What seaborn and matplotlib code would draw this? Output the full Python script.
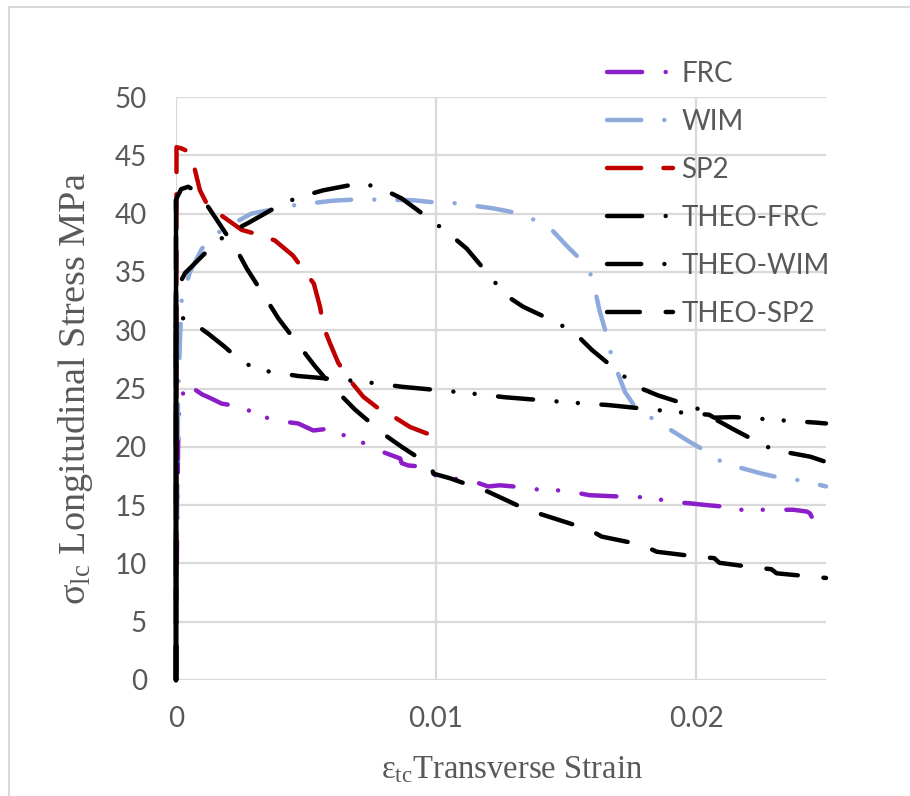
import matplotlib
matplotlib.use("Agg")
import matplotlib.pyplot as plt
import pandas as pd
import seaborn as sns
from matplotlib.patches import Rectangle

# ---- measured curves: transverse strain vs longitudinal stress (MPa) ----
frc_strain = [0, 0.00003, 0.00008, 0.00012, 0.0002, 0.0003, 0.0004, 0.0005, 0.0006, 0.0008,
              0.001, 0.0013, 0.00176, 0.00233, 0.00253, 0.00272, 0.00291, 0.00304, 0.00323, 0.0033,
              0.004, 0.0047, 0.00528, 0.00567, 0.00605, 0.00631, 0.00637, 0.00663, 0.00723, 0.0079,
              0.00862, 0.00868, 0.00893, 0.00945, 0.00958, 0.0097, 0.01047, 0.0113, 0.012, 0.01246,
              0.01297, 0.01349, 0.0143, 0.0152, 0.0159, 0.0166, 0.01746, 0.0182, 0.019, 0.01977,
              0.02041, 0.02092, 0.02105, 0.02118, 0.022, 0.0229, 0.02374, 0.02426, 0.02438, 0.02445]
frc_stress = [0, 10, 20, 23.7, 24.0, 24.8, 25.5, 25.3, 25.1, 24.8,
              24.5, 24.2, 23.7, 23.5, 23.6, 23.2, 23.0, 23.1, 22.9, 22.6,
              22.2, 22.0, 21.4, 21.5, 21.5, 21.4, 21.0, 21.0, 20.3, 19.6,
              19.0, 18.6, 18.4, 18.3, 17.9, 17.7, 17.3, 17.15, 16.6, 16.7,
              16.6, 16.35, 16.35, 16.15, 15.85, 15.78, 15.7, 15.67, 15.3, 15.15,
              15.0, 14.9, 14.6, 14.6, 14.6, 14.6, 14.6, 14.45, 14.3, 14.0]

wim_strain = [0, 0.00003, 0.00008, 0.00015, 0.00022, 0.00054, 0.001, 0.0015, 0.002, 0.0029,
              0.0045, 0.006, 0.0068, 0.0076, 0.0091, 0.0099, 0.0107, 0.0122, 0.013, 0.0138,
              0.0145, 0.015, 0.01554, 0.016, 0.0163, 0.01656, 0.01676, 0.01727, 0.01772, 0.01842,
              0.0197, 0.0204, 0.02105, 0.02253, 0.02332, 0.0241, 0.025]
wim_stress = [0, 10, 24, 29, 32.7, 35.0, 37.0, 38.2, 38.9, 40.0,
              40.7, 41.1, 41.2, 41.2, 41.15, 40.97, 40.9, 40.45, 40.1, 39.45,
              38.5, 37.3, 36.1, 34.6, 31.6, 29.6, 27.7, 24.7, 23.2, 22.3,
              20.5, 19.6, 18.6, 17.7, 17.3, 17.1, 16.6]

sp2_strain = [0, 0.00001, 0.00002, 0.0002, 0.0004, 0.00054, 0.0007, 0.00092, 0.00124, 0.0019,
              0.00253, 0.00317, 0.0038, 0.0045, 0.00496, 0.0053, 0.00554, 0.00567, 0.0059, 0.00624,
              0.00669, 0.0072, 0.00772, 0.00836, 0.009, 0.0097]
sp2_stress = [0, 20, 45.7, 45.6, 45.4, 45.0, 44.0, 42.0, 40.6, 39.6,
              38.6, 38.2, 37.7, 36.4, 35.0, 34.0, 32.0, 30.3, 29.0, 27.2,
              25.7, 24.3, 23.4, 22.6, 21.7, 21.1]

# ---- theoretical curves ----
theo_frc_strain = [0, 0, 0.00015, 0.00035, 0.0009, 0.00124, 0.00186, 0.00249, 0.00317, 0.0047,
                   0.00714, 0.00868, 0.00949, 0.01035, 0.0111, 0.01265, 0.01349, 0.01432, 0.01515, 0.01663,
                   0.01746, 0.0183, 0.01913, 0.0205, 0.0207, 0.02144, 0.02227, 0.0231, 0.02464, 0.025]
theo_frc_stress = [0, 32.2, 31.7, 30.6, 30.25, 29.7, 28.6, 27.36, 26.6, 26.07,
                   25.6, 25.15, 24.98, 24.8, 24.64, 24.25, 24.1, 23.95, 23.8, 23.58,
                   23.39, 23.2, 23.0, 22.75, 22.5, 22.55, 22.44, 22.3, 22.07, 22.0]

theo_wim_strain = [0, 0, 0.00035, 0.0008, 0.00143, 0.002, 0.00278, 0.00413, 0.00487, 0.00567,
                   0.0066, 0.0072, 0.00795, 0.00868, 0.0099, 0.01054, 0.01118, 0.01214, 0.01268, 0.01336,
                   0.0147, 0.01541, 0.016, 0.01714, 0.01782, 0.01855, 0.01996, 0.02067, 0.02144, 0.02272,
                   0.02355, 0.0244, 0.025]
theo_wim_stress = [0, 33.4, 34.9, 35.9, 37.3, 38.3, 39.2, 40.9, 41.5, 42.0,
                   42.4, 42.6, 42.1, 41.3, 39.3, 38.2, 37.0, 34.45, 33.0, 32.0,
                   30.6, 29.6, 28.3, 26.2, 25.07, 24.4, 23.4, 22.45, 21.5, 20.0,
                   19.5, 19.15, 18.7]

theo_sp2_strain = [0, 0, 0.0002, 0.00047, 0.0007, 0.00105, 0.0015, 0.00233, 0.00272, 0.00349,
                   0.00394, 0.00483, 0.00535, 0.006, 0.00688, 0.00804, 0.00868, 0.0095, 0.0098, 0.0099,
                   0.01054, 0.012, 0.0135, 0.01554, 0.0159, 0.01637, 0.0179, 0.01849, 0.01996, 0.0207,
                   0.0209, 0.0221, 0.0229, 0.0231, 0.025]
theo_sp2_stress = [0, 41.2, 42.1, 42.3, 42.0, 41.2, 39.7, 36.9, 35.3, 32.6,
                   31.0, 28.4, 26.9, 25.2, 23.2, 21.0, 20.0, 18.8, 18.4, 17.7,
                   17.3, 16.15, 14.6, 13.15, 12.9, 12.3, 11.6, 11.0, 10.6, 10.45,
                   10.05, 9.7, 9.5, 9.15, 8.75]

series_names = ["FRC", "WIM", "SP2", "THEO-FRC", "THEO-WIM", "THEO-SP2"]
x_ticks = [0, 0.01, 0.02]
x_tick_labels = ["0", "0.01", "0.02"]
y_ticks = [0, 5, 10, 15, 20, 25, 30, 35, 40, 45, 50]

curves = [
    (frc_strain, frc_stress),
    (wim_strain, wim_stress),
    (sp2_strain, sp2_stress),
    (theo_frc_strain, theo_frc_stress),
    (theo_wim_strain, theo_wim_stress),
    (theo_sp2_strain, theo_sp2_stress),
]
df = pd.concat(
    [pd.DataFrame({"strain": xs, "stress": ys, "series": name})
     for name, (xs, ys) in zip(series_names, curves)],
    ignore_index=True,
)
# elastic branch (zero transverse strain) of the theoretical models
theo_names = series_names[3:]
df_rise = pd.concat(
    [pd.DataFrame({"strain": xs[:2], "stress": ys[:2], "series": name})
     for name, (xs, ys) in zip(theo_names, curves[3:])],
    ignore_index=True,
)

palette = {
    "FRC": "#8B1EC8",
    "WIM": "#8EA9DB",
    "SP2": "#C00000",
    "THEO-FRC": "#000000",
    "THEO-WIM": "#000000",
    "THEO-SP2": "#000000",
}
# dash patterns in line-width units (round caps turn the short ones into dots)
dash_long_dot_dot = (7.9, 5.3, 0.01, 4.8, 0.01, 5.3)
dash_long_dot = (7.7, 5.2, 0.01, 5.2)
dash_map = {
    "FRC": dash_long_dot_dot,
    "WIM": dash_long_dot,
    "SP2": (7.7, 5.0),
    "THEO-FRC": dash_long_dot_dot,
    "THEO-WIM": dash_long_dot,
    "THEO-SP2": (7.4, 5.8),
}

sns.set_theme(style="white")
plt.rcParams["font.family"] = ["Lato", "DejaVu Sans"]
plt.rcParams["mathtext.fontset"] = "custom"
plt.rcParams["mathtext.rm"] = "Liberation Serif"
plt.rcParams["mathtext.it"] = "Liberation Serif:italic"

W, H = 910, 796
fig = plt.figure(figsize=(W / 100, H / 100), dpi=100)
fig.patch.set_facecolor("white")
ax = fig.add_axes([176 / W, 1 - 680 / H, 650 / W, 583 / H])

line_kws = dict(linewidth=3.2, dash_capstyle="round", solid_capstyle="round",
                dash_joinstyle="round", solid_joinstyle="round", clip_on=False)

sns.lineplot(
    data=df, x="strain", y="stress",
    hue="series", style="series",
    hue_order=series_names, style_order=series_names,
    palette=palette, dashes=dash_map,
    sort=False, estimator=None, legend=False, ax=ax, **line_kws,
)
sns.lineplot(
    data=df_rise, x="strain", y="stress", hue="series", hue_order=theo_names,
    palette={n: palette[n] for n in theo_names},
    sort=False, estimator=None, legend=False, ax=ax, **line_kws,
)

ax.set_xlim(0, 0.025)
ax.set_ylim(0, 50)
ax.set_xticks(x_ticks)
ax.set_xticklabels(x_tick_labels)
ax.set_yticks(y_ticks)
ax.tick_params(axis="both", length=0, labelsize=20, labelcolor="#595959")
ax.tick_params(axis="y", pad=21)
ax.tick_params(axis="x", pad=19)
ax.grid(True, color="#D9D9D9", linewidth=1.6)
ax.set_axisbelow(True)
for spine in ax.spines.values():
    spine.set_visible(False)

ax.set_ylabel(r"$\mathregular{\sigma_{lc}}$ Longitudinal Stress MPa",
              fontfamily="Liberation Serif", fontsize=27.5, color="#595959")
ax.set_xlabel(r"$\mathregular{\varepsilon_{tc}}$Transverse Strain",
              fontfamily="Liberation Serif", fontsize=23.5, color="#595959")
ax.yaxis.set_label_coords(-0.124, 0.5)
ax.xaxis.set_label_coords(0.517, -0.128)

leg = ax.legend(
    ax.get_lines()[:6], series_names,
    loc="upper left", bbox_to_anchor=(607 / W, 1 - 61 / H), bbox_transform=fig.transFigure,
    frameon=False, fontsize=20, handlelength=2.376, handletextpad=0.3,
    labelspacing=0.79, borderpad=0, borderaxespad=0,
)
for t in leg.get_texts():
    t.set_color("#595959")

# chart-area frame
fig.add_artist(Rectangle((9 / W, -0.05), 1.2, 1.05 - 7 / H, transform=fig.transFigure,
                         fill=False, edgecolor="#D9D9D9", linewidth=1.5))

fig.savefig("out.png", dpi=100)
